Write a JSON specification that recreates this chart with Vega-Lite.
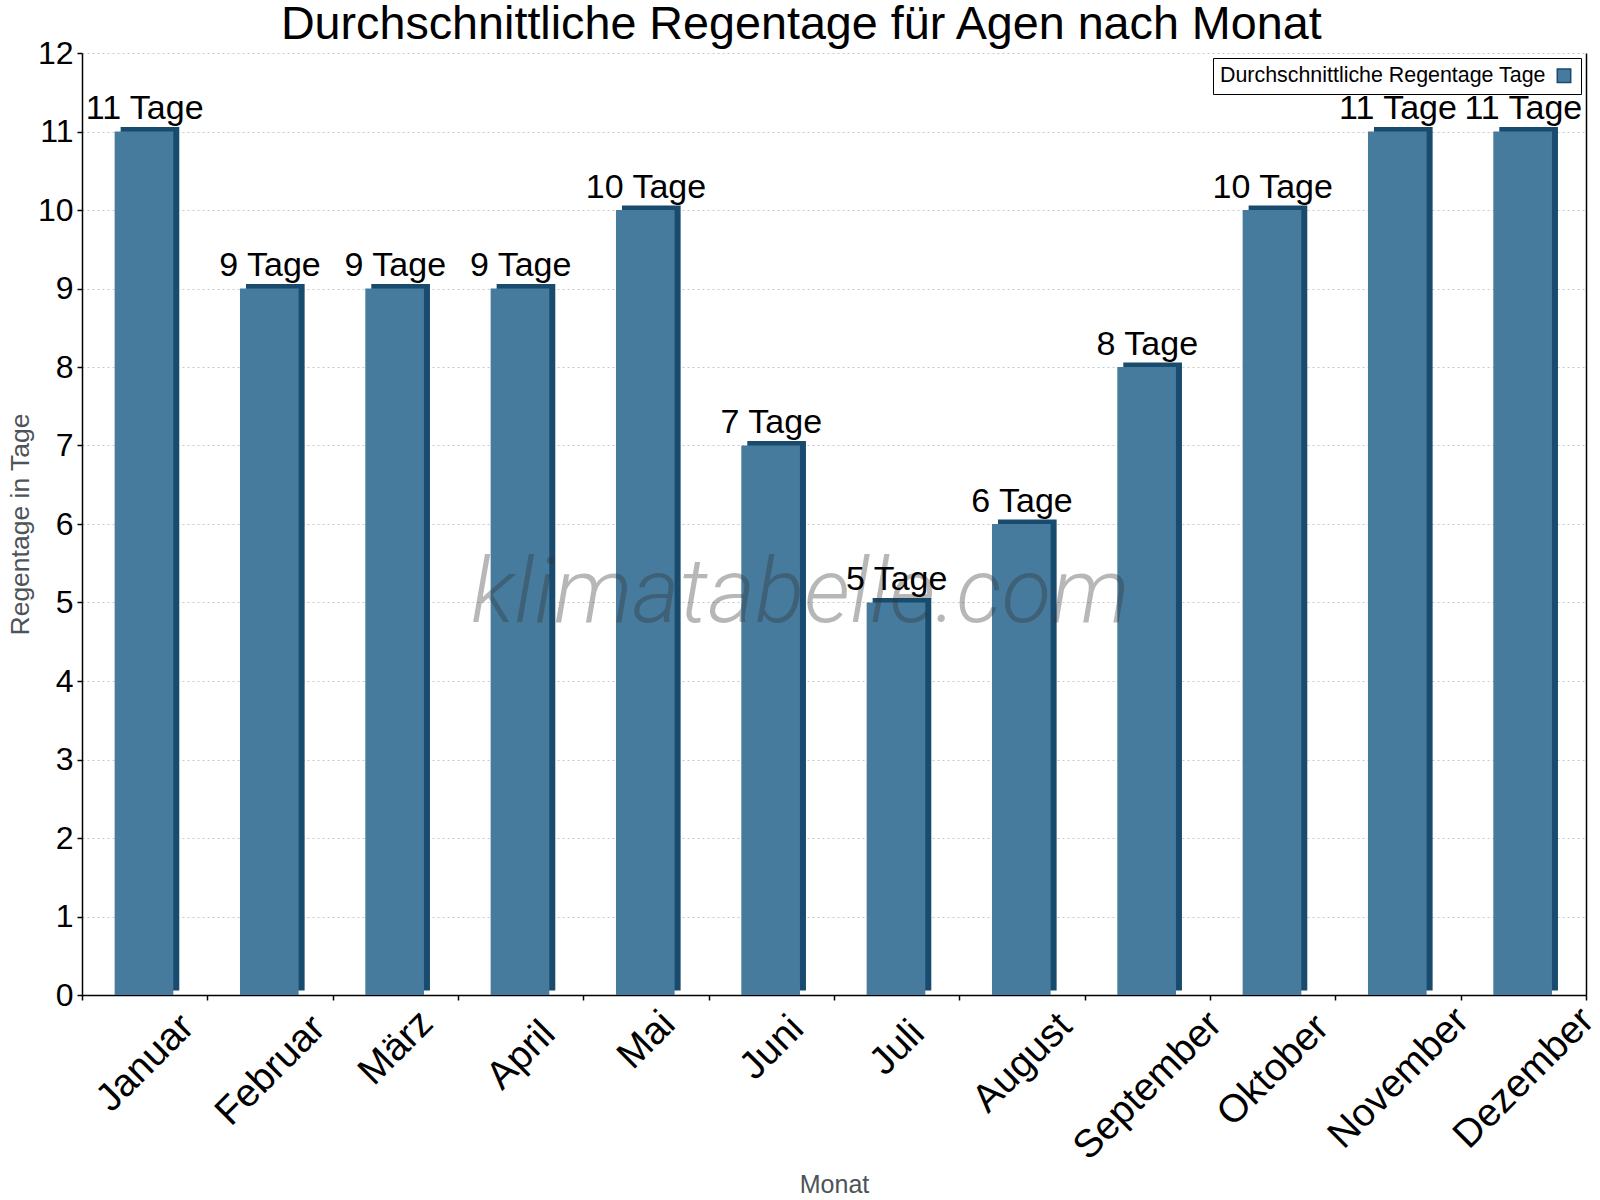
{
  "$schema": "https://vega.github.io/schema/vega-lite/v6.json",
  "width": 1504,
  "height": 942,
  "autosize": {"type": "none"},
  "padding": {"left": 82, "top": 53, "right": 14, "bottom": 205},
  "background": "white",
  "config": {"view": {"stroke": null}, "font": "Liberation Sans"},
  "title": {
    "text": "Durchschnittliche Regentage für Agen nach Monat",
    "font": "Liberation Sans",
    "fontSize": 46.7,
    "fontWeight": "normal",
    "color": "black",
    "anchor": "middle",
    "frame": "bounds",
    "offset": -12,
    "dx": -3
  },
  "data": {
    "values": [
      {"Monat": "Januar", "Tage": 11, "label": "11 Tage"},
      {"Monat": "Februar", "Tage": 9, "label": "9 Tage"},
      {"Monat": "März", "Tage": 9, "label": "9 Tage"},
      {"Monat": "April", "Tage": 9, "label": "9 Tage"},
      {"Monat": "Mai", "Tage": 10, "label": "10 Tage"},
      {"Monat": "Juni", "Tage": 7, "label": "7 Tage"},
      {"Monat": "Juli", "Tage": 5, "label": "5 Tage"},
      {"Monat": "August", "Tage": 6, "label": "6 Tage"},
      {"Monat": "September", "Tage": 8, "label": "8 Tage"},
      {"Monat": "Oktober", "Tage": 10, "label": "10 Tage"},
      {"Monat": "November", "Tage": 11, "label": "11 Tage"},
      {"Monat": "Dezember", "Tage": 11, "label": "11 Tage"}
    ]
  },
  "layer": [
    {
      "mark": {"type": "bar", "color": "#184b6d", "width": {"band": 0.468}, "xOffset": 5.3, "yOffset": -4.5, "y2Offset": -4.5},
      "encoding": {
        "x": {
          "field": "Monat", "type": "nominal", "sort": null,
          "scale": {"domain": ["Januar","Februar","März","April","Mai","Juni","Juli","August","September","Oktober","November","Dezember"], "paddingInner": 0, "paddingOuter": 0},
          "axis": {
            "title": "Monat", "titleFont": "Liberation Sans", "titleFontSize": 25, "titleFontWeight": "normal", "titleColor": "#4d5358", "titlePadding": 6,
            "labelFont": "Liberation Sans", "labelFontSize": 39, "labelColor": "black", "labelAngle": -45, "labelAlign": "center", "labelBaseline": "middle", "labelPadding": 7,
            "labelOverlap": false, "labelBound": false, "labelFlush": false, "labelLimit": 0,
            "tickBand": "extent", "tickSize": 5, "tickColor": "black", "tickWidth": 1.5,
            "domainColor": "black", "domainWidth": 1.5, "grid": false,
            "encoding": {"labels": {
              "dx": {"value": {"expr": "-(5.36*length(datum.label)+7)"}},
              "dy": {"value": {"expr": "5.36*length(datum.label)+7"}}
            }}
          }
        },
        "y": {
          "field": "Tage", "type": "quantitative",
          "scale": {"domain": [0, 12], "nice": false},
          "axis": {
            "title": "Regentage in Tage", "titleFont": "Liberation Sans", "titleFontSize": 26.5, "titleFontWeight": "normal", "titleColor": "#4d5358", "titlePadding": 3,
            "labelFont": "Liberation Sans", "labelFontSize": 32, "labelColor": "black", "labelPadding": 4,
            "values": [0,1,2,3,4,5,6,7,8,9,10,11,12],
            "tickSize": 5, "tickColor": "black", "tickWidth": 1.5,
            "domainColor": "black", "domainWidth": 1.5,
            "grid": true, "gridColor": "#c8c8c8", "gridDash": [2, 3], "gridWidth": 1
          }
        }
      }
    },
    {
      "mark": {"type": "bar", "width": {"band": 0.468}, "xOffset": -0.7},
      "encoding": {
        "x": {"field": "Monat", "type": "nominal", "sort": null},
        "y": {"field": "Tage", "type": "quantitative", "axis": null},
        "fill": {
          "datum": "Durchschnittliche Regentage Tage", "type": "nominal",
          "scale": {"range": ["#467b9d"]},
          "legend": {
            "title": null, "orient": "top-right", "offset": 5, "padding": 7,
            "strokeColor": "black", "fillColor": "white",
            "labelFont": "Liberation Sans", "labelFontSize": 21.4, "labelColor": "black", "labelLimit": 0,
            "symbolType": "square", "symbolSize": 180, "symbolStrokeColor": "#184b6d", "symbolStrokeWidth": 1.5,
            "encode": {
              "symbols": {"update": {"x": {"value": 344}}},
              "labels": {"update": {"x": {"value": 0}}}
            }
          }
        }
      }
    },
    {
      "data": {"values": [{}]},
      "mark": {"type": "text", "font": "Roboto", "fontSize": 91, "fontStyle": "italic", "fontWeight": 300, "color": "#333333", "opacity": 0.35, "align": "center", "baseline": "alphabetic", "dx": 29},
      "encoding": {
        "x": {"datum": "Juni", "type": "nominal"},
        "y": {"datum": 4.75, "type": "quantitative", "axis": null},
        "text": {"value": "klimatabelle.com"}
      }
    },
    {
      "mark": {"type": "text", "font": "Liberation Sans", "fontSize": 34, "color": "black", "align": "center", "baseline": "alphabetic", "dy": -12.5},
      "encoding": {
        "x": {"field": "Monat", "type": "nominal", "sort": null},
        "y": {
          "field": "Tage", "type": "quantitative",
          "axis": {"orient": "right", "labels": false, "ticks": false, "grid": false, "title": null, "domainColor": "black", "domainWidth": 1.5}
        },
        "text": {"field": "label"}
      }
    }
  ],
  "resolve": {"axis": {"y": "independent"}}
}
